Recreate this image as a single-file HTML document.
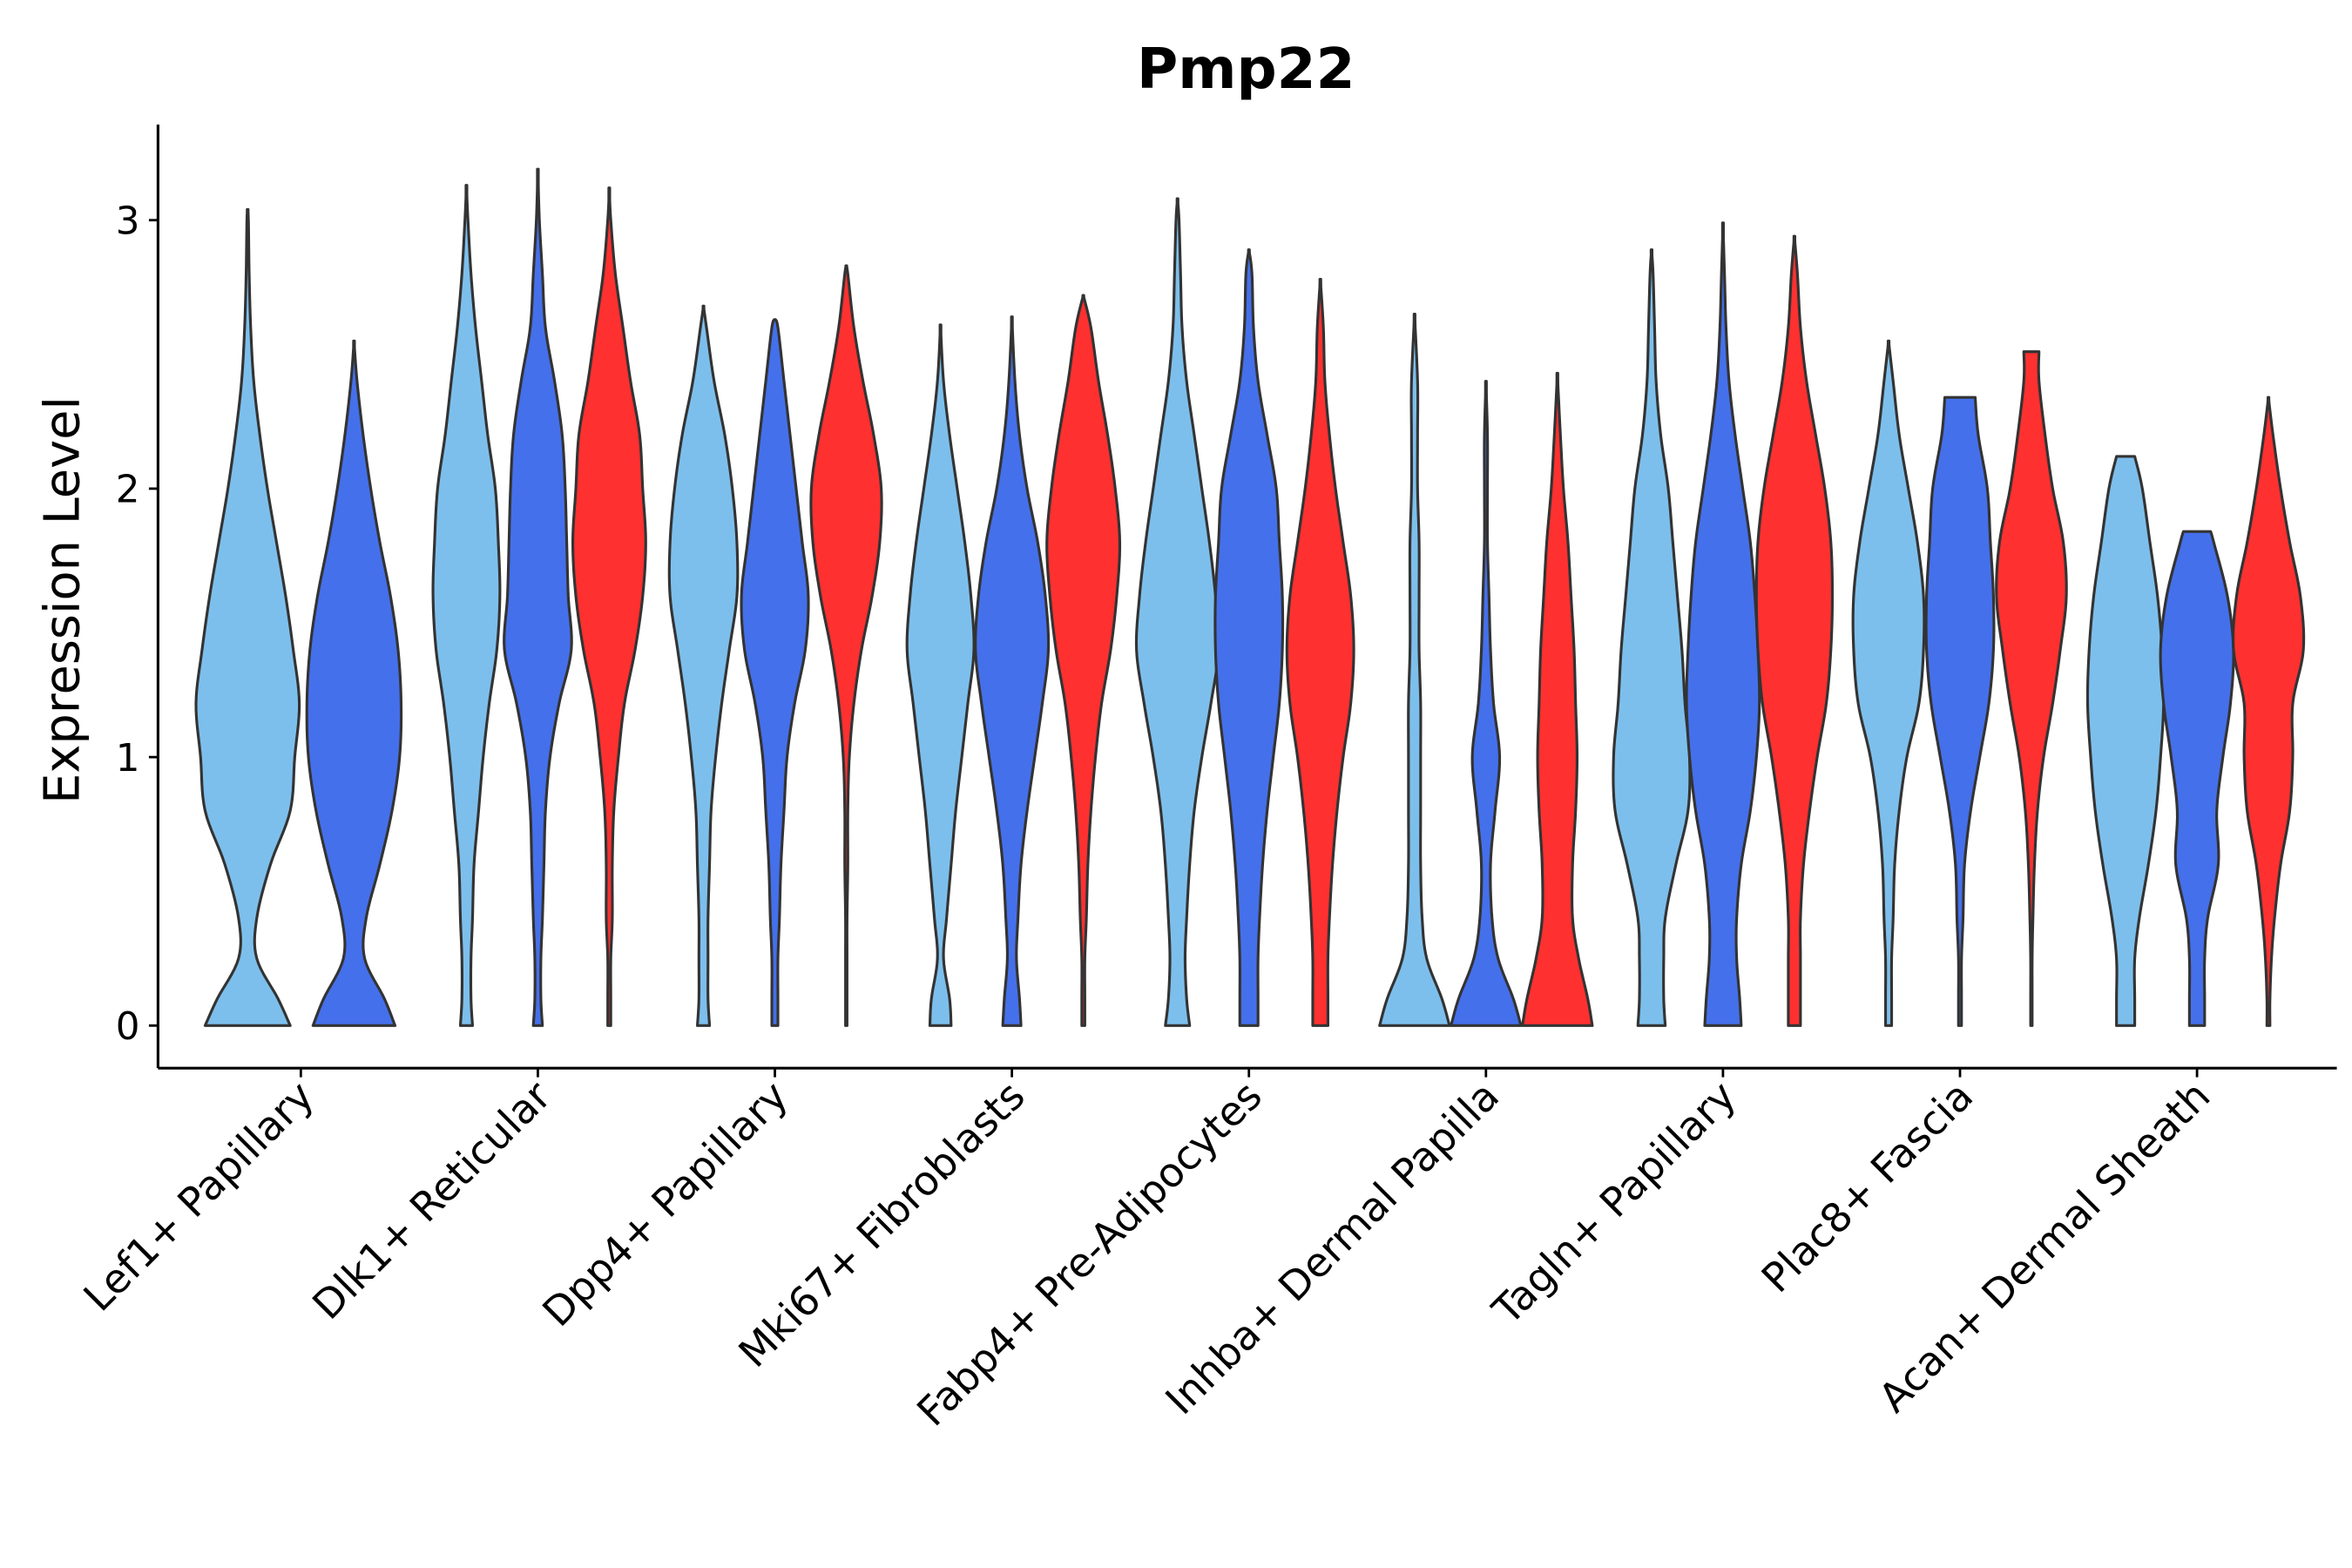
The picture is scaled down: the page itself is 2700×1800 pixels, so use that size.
<!DOCTYPE html>
<html><head><meta charset="utf-8"><style>
html,body{margin:0;padding:0;background:#fff}
svg{display:block}
text{font-family:"DejaVu Sans","Liberation Sans",sans-serif;fill:#000}
</style></head><body>
<svg id="chart" width="2700" height="1800" viewBox="0 0 1548 1032" xmlns="http://www.w3.org/2000/svg">
<rect width="1548" height="1032" fill="#fff"/>
<text x="820" y="58" text-anchor="middle" font-size="37" font-weight="bold">Pmp22</text>
<text transform="translate(52,395) rotate(-90)" text-anchor="middle" font-size="32">Expression Level</text>
<g id="plot"></g>
</svg>
<script>
const categories = ["Lef1+ Papillary","Dlk1+ Reticular","Dpp4+ Papillary","Mki67+ Fibroblasts","Fabp4+ Pre-Adipocytes","Inhba+ Dermal Papilla","Tagln+ Papillary","Plac8+ Fascia","Acan+ Dermal Sheath"];
const yTicks = [0,1,2,3];
const gridY = [0,0.1,0.25,0.4,0.6,0.8,1.0,1.2,1.4,1.6,1.8,2.0,2.2,2.4,2.6,2.8,3.0,3.2];
const groupColors = ["#7DBFEC","#4570EB","#FF3030"];
const violinCat = [0,0,1,1,1,2,2,2,3,3,3,4,4,4,5,5,5,6,6,6,7,7,7,8,8,8];
const violinGroup = [0,1,0,1,2,0,1,2,0,1,2,0,1,2,0,1,2,0,1,2,0,1,2,0,1,2];
const violinNGroups = [2,2,3,3,3,3,3,3,3,3,3,3,3,3,3,3,3,3,3,3,3,3,3,3,3,3];
const violinMax = [3.04,2.55,3.13,3.19,3.12,2.68,2.63,2.83,2.61,2.64,2.72,3.08,2.89,2.78,2.65,2.4,2.43,2.89,2.99,2.94,2.55,2.34,2.51,2.12,1.84,2.34];
const violinTopW = [0,0,0,0,0,0,0,0,0,0,0,0,0,0,0,0,0,0,0,0,0,10,5,6,9,0];
const violinWidths = [
[28,20,6,6,15,28,31,34,30,25,19,13,8,4,2,1,0.5],
[27,20,7,8,17,25,30,31,29,24,17,11,6,2],
[4,3,3,4,5,8,11,15,20,22,21,19,14,10,6,3,1],
[3,2,2,3,4,5,8,14,22,20,19,18,16,11,5,3,1],
[1,1,1,2,2,3,6,10,17,22,24,22,20,14,9,4,1],
[4,3,3,3,4,5,8,12,17,22,22,19,14,7,2],
[2,2,2,3,4,6,8,13,20,22,18,14,10,6,2],
[0.5,0.5,0.5,0.5,1,1,2,5,10,17,22,23,18,11,5,1],
[7,6,2,4,7,10,14,18,22,20,16,11,6,2],
[6,5,3,4,6,10,15,20,24,22,17,10,5,2],
[1,1,1,2,3,5,8,12,18,22,24,21,16,10,5],
[8,6,5,6,8,11,16,22,27,25,21,16,11,6,3,2,1],
[6,6,6,7,9,12,16,20,22,22,20,18,12,6,3,2],
[5,5,5,6,8,11,15,20,22,20,15,10,6,3,2],
[23,18,8,5,4,4,4,4,3,3,3,2,2,2],
[23,18,8,4,3,6,9,5,3,2,1,1,1],
[23,20,14,10,10,12,13,12,11,9,7,4,2],
[9,8,8,9,16,24,25,22,20,17,14,11,6,3,2,1],
[12,11,9,9,12,18,22,24,23,21,18,13,8,4,2,1],
[4,4,4,4,6,10,15,21,24,25,24,20,14,8,4,2],
[2,2,2,3,4,7,12,20,23,23,19,13,7,3],
[1,1,1,2,3,7,13,19,22,22,20,18,12],
[0.5,0.5,0.5,1,2,4,8,14,19,23,21,14,9,5],
[6,6,6,9,15,20,23,25,24,21,16,11],
[5,5,5,7,14,13,17,22,24,20,11],
[1,1,2,4,8,14,16,16,23,21,14,8,3]
];

const NS="http://www.w3.org/2000/svg";
const plot=document.getElementById('plot');
const X0=104, X1=1538, YB=703, YT=82;
const yScale=v=>675 - v*176.7;
const xCat=i=>198 + i*156;
function mk(tag,attrs){const e=document.createElementNS(NS,tag);for(const k in attrs)e.setAttribute(k,attrs[k]);plot.appendChild(e);return e;}

function catmull(pts,n){
  const out=[];
  for(let i=0;i<pts.length-1;i++){
    const p0=pts[Math.max(0,i-1)],p1=pts[i],p2=pts[i+1],p3=pts[Math.min(pts.length-1,i+2)];
    for(let s=0;s<n;s++){const t=s/n,t2=t*t,t3=t2*t;
      const f=(a,b,c,d)=>0.5*((2*b)+(-a+c)*t+(2*a-5*b+4*c-d)*t2+(-a+3*b-3*c+d)*t3);
      out.push([f(p0[0],p1[0],p2[0],p3[0]),f(p0[1],p1[1],p2[1],p3[1])]);}
  }
  out.push(pts[pts.length-1]);return out;
}

for(let v=0;v<violinMax.length;v++){
  const ng=violinNGroups[v], off=ng===2?70:47;
  const cx=xCat(violinCat[v]) + (violinGroup[v]-(ng-1)/2)*off;
  const prof=[];
  const w=violinWidths[v];
  for(let k=0;k<w.length && gridY[k]<violinMax[v];k++) prof.push([gridY[k],w[k]]);
  prof.push([violinMax[v],violinTopW[v]]);
  const sm=catmull(prof,8).map(p=>[p[0],Math.max(0.3,p[1])]);
  let d='M'+(cx-sm[0][1])+','+yScale(0);
  sm.forEach(p=>{d+=' L'+(cx+p[1]).toFixed(2)+','+yScale(p[0]).toFixed(2);});
  for(let i=sm.length-1;i>=0;i--){d+=' L'+(cx-sm[i][1]).toFixed(2)+','+yScale(sm[i][0]).toFixed(2);}
  d+=' Z';
  const p=mk('path',{d:d,fill:groupColors[violinGroup[v]],stroke:'#333',"stroke-width":1.8,"stroke-linejoin":"round"});
  
  
}

const ya=mk('line',{x1:X0,y1:YT,x2:X0,y2:YB,stroke:'#000',"stroke-width":1.8});


const xa=mk('line',{x1:X0,y1:YB,x2:X1,y2:YB,stroke:'#000',"stroke-width":1.8});



yTicks.forEach(t=>{
  const y=yScale(t);
  const l=mk('line',{x1:X0-6,y1:y,x2:X0,y2:y,stroke:'#000',"stroke-width":1.6});
  
  
  const tx=mk('text',{x:X0-12,y:y+9,"text-anchor":"end","font-size":25});
  tx.textContent=t;
  
  
});
categories.forEach((c,i)=>{
  const x=xCat(i);
  const l=mk('line',{x1:x,y1:YB,x2:x,y2:YB+6,stroke:'#000',"stroke-width":1.6});
  
  
  const tx=mk('text',{transform:`translate(${x+10},${YB+20}) rotate(-45)`,"text-anchor":"end","font-size":26.5});
  tx.textContent=c;
  
  
});
</script>
</body></html>
